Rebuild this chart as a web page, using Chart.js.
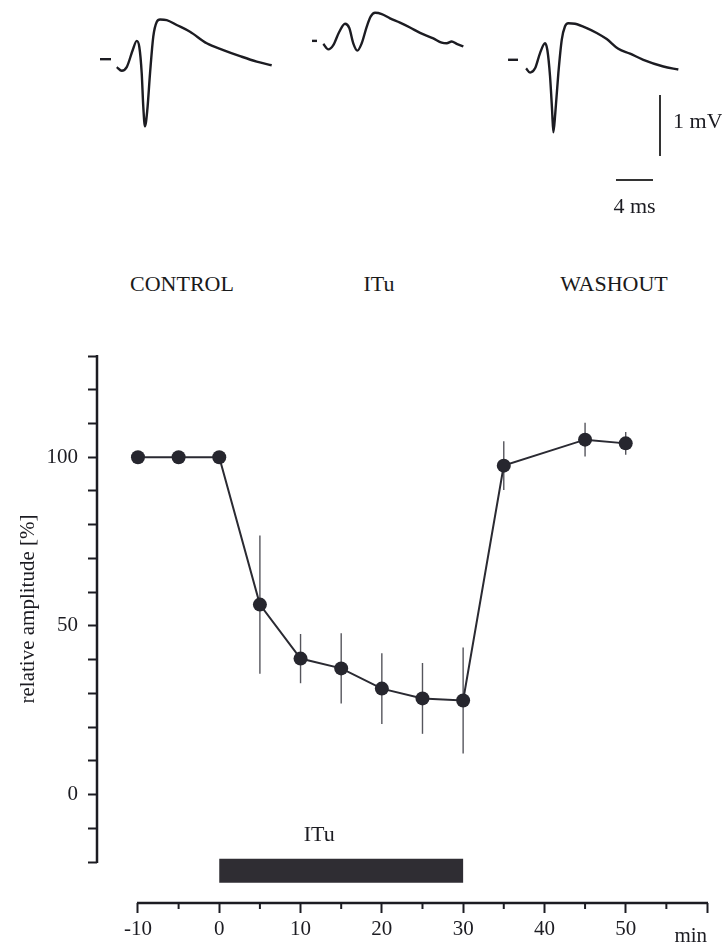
<!DOCTYPE html>
<html>
<head>
<meta charset="utf-8">
<script src="https://cdn.jsdelivr.net/npm/chart.js@4.4.1/dist/chart.umd.min.js"></script>
<style>
  html, body { margin: 0; padding: 0; background: #fff; }
  #page { position: relative; width: 722px; height: 947px; overflow: hidden;
          font-family: "Liberation Serif", "Times New Roman", serif; color: #1a1a1a; }
  #traces { position: absolute; left: 0; top: 0; width: 722px; height: 240px; }
  #main { position: absolute; left: 0; top: 300px; width: 722px; height: 647px; }
  .lbl { position: absolute; font-size: 22px; transform: translate(-50%, -50%); white-space: nowrap; }
</style>
</head>
<body>
<div id="page">
  <div id="traces"><canvas id="trace-chart"></canvas></div>
  <div class="lbl" style="left:182px;top:284px">CONTROL</div>
  <div class="lbl" style="left:379px;top:284px">ITu</div>
  <div class="lbl" style="left:614px;top:284px">WASHOUT</div>
  <div id="main"><canvas id="amp-chart"></canvas></div>
</div>
<script>
// ==================== DATOS ====================
// amplitud relativa (%) vs tiempo (min)
const timeMin = [-10, -5, 0, 5, 10, 15, 20, 25, 30, 35, 45, 50];
const amp     = [100, 100, 100, 56.3, 40.3, 37.4, 31.4, 28.5, 27.9, 97.5, 105.2, 104.1];
const ampErr  = [0, 0, 0, 20.5, 7.3, 10.4, 10.5, 10.5, 15.7, 7.2, 5, 3.4];
const xTicks  = [-10, -5, 0, 5, 10, 15, 20, 25, 30, 35, 40, 45, 50, 55, 60];
const yTicks  = [-20, -10, 0, 10, 20, 30, 40, 50, 60, 70, 80, 90, 100, 110, 120, 130];
const yLabels = [0, 50, 100];
const ituPeriod = [0, 30];   // aplicación de ITu (min)

// registros (ms desde inicio, mV respecto a línea base)
const dashEndMs   = [1.19, 0.54, 1.08];
const controlTime = [1.81, 2.35, 2.89, 3.54, 3.97, 4.25, 4.51, 4.68, 4.86, 5.11, 5.41, 5.76, 6.13, 6.49, 7.21, 8.29, 9.73, 11.54, 13.33, 15.14, 16.94, 18.56];
const controlVolt = [-0.13, -0.19, -0.13, 0.15, 0.30, 0.20, -0.23, -0.78, -1.10, -0.84, -0.23, 0.37, 0.61, 0.65, 0.64, 0.56, 0.45, 0.26, 0.15, 0.05, -0.04, -0.10];
const ituTime     = [1.22, 1.76, 2.30, 2.95, 3.57, 4.03, 4.46, 4.90, 5.37, 5.91, 6.35, 6.81, 7.54, 8.43, 9.51, 10.59, 11.68, 13.11, 14.02, 14.56, 15.10, 15.64, 16.36];
const ituVolt     = [-0.05, -0.14, -0.07, 0.15, 0.28, 0.21, -0.04, -0.16, -0.04, 0.23, 0.40, 0.46, 0.44, 0.37, 0.30, 0.22, 0.13, 0.04, -0.03, -0.04, -0.01, -0.05, -0.09];
const washTime    = [1.95, 2.38, 2.92, 3.46, 4.00, 4.25, 4.54, 4.76, 4.90, 5.11, 5.44, 5.81, 6.16, 6.52, 7.24, 8.51, 9.59, 10.67, 11.92, 13.19, 14.63, 16.79, 18.41];
const washVolt    = [-0.14, -0.21, -0.14, 0.11, 0.27, 0.16, -0.27, -0.82, -1.19, -0.87, -0.22, 0.33, 0.55, 0.60, 0.59, 0.52, 0.44, 0.34, 0.18, 0.10, 0.00, -0.11, -0.16];
const scaleBarMv = 1;
const scaleBarMs = 4;

// ==================== LAYOUT ====================
const traceOffsetMs = [10.81, 33.73, 54.92];
const traceOffsetMv = [0.03, 0.33, 0.02];
const vBarAt = { ms: 71.35, mv: -0.557 };
const hBarAt = { ms: 66.59, mv: -1.951 };

const SERIF = "'Liberation Serif', 'Times New Roman', serif";
const INK = '#1c1c22';
Chart.defaults.font.family = SERIF;
Chart.defaults.color = INK;

// ==================== REGISTROS ====================
function traza(tiempos, voltajes, i) {
    return tiempos.map((t, k) => ({ x: t + traceOffsetMs[i], y: voltajes[k] + traceOffsetMv[i] }));
}
function guion(i) {
    return [{ x: traceOffsetMs[i], y: traceOffsetMv[i] }, { x: traceOffsetMs[i] + dashEndMs[i], y: traceOffsetMv[i] }];
}
const lineaTraza = { borderColor: INK, borderWidth: 2.4, pointRadius: 0, cubicInterpolationMode: 'monotone', fill: false };

const traceDatasets = [
    { ...lineaTraza, data: traza(controlTime, controlVolt, 0) },
    { ...lineaTraza, data: traza(ituTime, ituVolt, 1) },
    { ...lineaTraza, data: traza(washTime, washVolt, 2) },
    { ...lineaTraza, data: guion(0) },
    { ...lineaTraza, data: guion(1) },
    { ...lineaTraza, data: guion(2) },
    { ...lineaTraza, borderWidth: 2, borderColor: '#333',
      data: [{ x: vBarAt.ms, y: vBarAt.mv }, { x: vBarAt.ms, y: vBarAt.mv - scaleBarMv }] },
    { ...lineaTraza, borderWidth: 2, borderColor: '#333',
      data: [{ x: hBarAt.ms, y: hBarAt.mv }, { x: hBarAt.ms + scaleBarMs, y: hBarAt.mv }] }
];

const barLabels = {
    id: 'barLabels',
    afterDraw(chart) {
        const { ctx, scales: { x, y } } = chart;
        ctx.save();
        ctx.fillStyle = INK;
        ctx.font = `22px ${SERIF}`;
        ctx.textBaseline = 'middle';
        ctx.textAlign = 'left';
        ctx.fillText(`${scaleBarMv} mV`, x.getPixelForValue(vBarAt.ms) + 13, y.getPixelForValue(vBarAt.mv - scaleBarMv / 2) - 3);
        ctx.textAlign = 'center';
        ctx.fillText(`${scaleBarMs} ms`, x.getPixelForValue(hBarAt.ms + scaleBarMs / 2), y.getPixelForValue(hBarAt.mv) + 27);
        ctx.restore();
    }
};

new Chart(document.getElementById('trace-chart'), {
    type: 'line',
    data: { datasets: traceDatasets },
    options: {
        responsive: true,
        maintainAspectRatio: false,
        animation: false,
        parsing: false,
        plugins: { legend: { display: false }, tooltip: { enabled: false } },
        scales: {
            x: { type: 'linear', display: false, min: 0, max: 78.05 },
            y: { type: 'linear', display: false, min: -2.934, max: 1 }
        }
    },
    plugins: [barLabels]
});

// ==================== GRÁFICO AMPLITUD ====================
const decoracion = {
    id: 'decoracion',
    beforeDatasetsDraw(chart) {
        const { ctx, scales: { x, y } } = chart;
        ctx.save();
        ctx.strokeStyle = '#55555c';
        ctx.lineWidth = 1.4;
        timeMin.forEach((t, i) => {
            if (!ampErr[i]) return;
            const px = x.getPixelForValue(t);
            ctx.beginPath();
            ctx.moveTo(px, y.getPixelForValue(amp[i] + ampErr[i]));
            ctx.lineTo(px, y.getPixelForValue(amp[i] - ampErr[i]));
            ctx.stroke();
        });
        ctx.restore();
    },
    afterDraw(chart) {
        const { ctx, scales: { x, y }, chartArea } = chart;
        ctx.save();
        ctx.strokeStyle = INK;
        ctx.lineWidth = 2.5;
        // eje y
        ctx.beginPath();
        ctx.moveTo(chartArea.left, y.getPixelForValue(yTicks[yTicks.length - 1]) - 1);
        ctx.lineTo(chartArea.left, y.getPixelForValue(yTicks[0]) + 1);
        ctx.stroke();
        // eje x
        ctx.beginPath();
        ctx.moveTo(x.getPixelForValue(xTicks[0]) - 1, chartArea.bottom);
        ctx.lineTo(x.getPixelForValue(xTicks[xTicks.length - 1]) + 1, chartArea.bottom);
        ctx.stroke();
        // marcas menores
        ctx.lineWidth = 2;
        xTicks.filter(v => v % 10 !== 0).forEach(v => {
            const px = x.getPixelForValue(v);
            ctx.beginPath();
            ctx.moveTo(px, chartArea.bottom);
            ctx.lineTo(px, chartArea.bottom + 6);
            ctx.stroke();
        });
        // textos
        ctx.fillStyle = INK;
        ctx.font = `22px ${SERIF}`;
        ctx.textAlign = 'center';
        ctx.textBaseline = 'middle';
        ctx.fillText('ITu', x.getPixelForValue(12.3), y.getPixelForValue(-12));
        ctx.font = `21px ${SERIF}`;
        ctx.fillText('min', x.getPixelForValue(58), chartArea.bottom + 33);
        ctx.translate(28, y.getPixelForValue(55));
        ctx.rotate(-Math.PI / 2);
        ctx.font = `21px ${SERIF}`;
        ctx.fillText('relative amplitude [%]', 0, 0);
        ctx.restore();
    }
};

new Chart(document.getElementById('amp-chart'), {
    type: 'line',
    data: {
        datasets: [
            {
                label: 'relative amplitude',
                data: timeMin.map((t, i) => ({ x: t, y: amp[i] })),
                borderColor: '#2a2a32',
                borderWidth: 2,
                pointRadius: 7,
                pointHoverRadius: 7,
                pointBackgroundColor: '#26262e',
                pointBorderWidth: 0,
                tension: 0
            },
            {
                label: 'ITu',
                data: ituPeriod.map(t => ({ x: t, y: -22.6 })),
                borderColor: '#2f2d33',
                borderWidth: 24,
                borderCapStyle: 'butt',
                pointRadius: 0
            }
        ]
    },
    options: {
        responsive: true,
        maintainAspectRatio: false,
        animation: false,
        parsing: false,
        layout: { padding: { left: 0, right: 15, top: 56, bottom: 0 } },
        plugins: { legend: { display: false }, tooltip: { enabled: false } },
        scales: {
            x: {
                type: 'linear',
                min: -15.04,
                max: 60,
                afterBuildTicks: s => { s.ticks = xTicks.map(v => ({ value: v })); },
                afterFit: s => { s.height = 44; },
                border: { display: false },
                grid: {
                    drawOnChartArea: false,
                    tickLength: 10,
                    tickWidth: 2,
                    tickColor: c => (c.tick && c.tick.value % 10 === 0) ? INK : 'rgba(0,0,0,0)'
                },
                ticks: {
                    autoSkip: false,
                    maxRotation: 0,
                    padding: 4,
                    font: { size: 21 },
                    callback: v => (v % 10 === 0 && v <= 50) ? String(v) : ''
                }
            },
            y: {
                type: 'linear',
                min: -32.15,
                max: 130,
                afterBuildTicks: s => { s.ticks = yTicks.map(v => ({ value: v })); },
                afterFit: s => { s.width = 97; },
                border: { display: false },
                grid: { drawOnChartArea: false, tickLength: 9, tickWidth: 2, tickColor: INK },
                ticks: {
                    autoSkip: false,
                    padding: 10,
                    font: { size: 21 },
                    callback: v => yLabels.includes(v) ? String(v) : ''
                }
            }
        }
    },
    plugins: [decoracion]
});
</script>
</body>
</html>
